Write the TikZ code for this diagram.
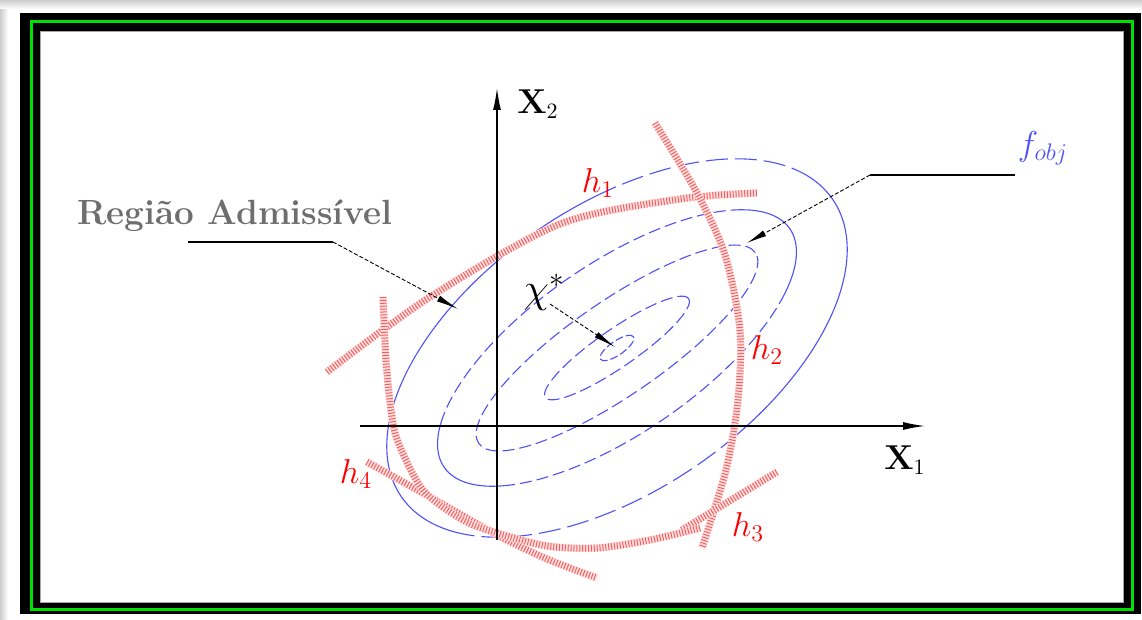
\documentclass[tikz,border=0pt]{standalone}
\usetikzlibrary{arrows.meta}
\definecolor{ctblue}{RGB}{80,80,250}
\definecolor{frgreen}{RGB}{0,225,0}
\definecolor{hred}{RGB}{245,95,95}
\definecolor{lblgray}{RGB}{110,110,110}
\newcommand{\hatchcurve}[1]{\draw[hband] #1; \draw[hticks] #1;}
\begin{document}
\begin{tikzpicture}[x=0.5pt,y=-0.5pt,
  contour/.style={ctblue, line width=0.55pt, dash pattern=on 6pt off 2.5pt},
  contourlong/.style={ctblue, line width=0.55pt, dash pattern=on 11pt off 3.5pt},
  contoursolid/.style={ctblue, line width=0.55pt},
  axisline/.style={line width=0.7pt, -{Latex[length=11pt,width=4pt]}},
  hband/.style={red!12, line width=3.8pt},
  hticks/.style={hred, line width=3.4pt, dash pattern=on 0.5pt off 0.95pt},
  leader/.style={line width=0.45pt, dash pattern=on 2pt off 1pt, -{Latex[length=11pt,width=3.2pt]}},
  leaderflat/.style={line width=0.6pt},
  hlabel/.style={text=red, font=\fontsize{18}{20}\selectfont, inner sep=0pt},
  axlabel/.style={font=\fontsize{16}{18}\selectfont, inner sep=0pt},
]
\useasboundingbox (0,0) rectangle (1142,620);
% shadow and frame
\fill[white] (0,0) rectangle (1142,620);
\shade[left color=gray!40, right color=white] (0,0) rectangle (8,620);
\shade[top color=gray!40, bottom color=white] (0,0) rectangle (1142,9);
\fill[black] (20,13) rectangle (1141,614);
\draw[frgreen, line width=1.5pt] (31,22) rectangle (1132,609);
\fill[white] (40,31) rectangle (1123,602);
\draw[gray!70, line width=0.4pt] (40,31) rectangle (1123,602);

% objective contours
\begin{scope}[shift={(617,348)}, y=0.5pt, rotate=34.6]
  \draw[contoursolid] (-82:262 and 142) arc[start angle=-82, end angle=12, x radius=262, y radius=142];
  \draw[contourlong] (12:262 and 142) arc[start angle=12, end angle=70, x radius=262, y radius=142];
  \draw[contoursolid] (70:262 and 142) arc[start angle=70, end angle=204, x radius=262, y radius=142];
  \draw[contourlong] (204:262 and 142) arc[start angle=204, end angle=278, x radius=262, y radius=142];
  \draw[contoursolid] (-40:210 and 85) arc[start angle=-40, end angle=30, x radius=210, y radius=85];
  \draw[contour] (30:210 and 85) arc[start angle=30, end angle=150, x radius=210, y radius=85];
  \draw[contoursolid] (150:210 and 85) arc[start angle=150, end angle=215, x radius=210, y radius=85];
  \draw[contour] (215:210 and 85) arc[start angle=215, end angle=320, x radius=210, y radius=85];
  \draw[contour] (0,0) ellipse [x radius=168, y radius=47];
  \draw[contour] (0,0) ellipse [x radius=87, y radius=19];
  \draw[contour, dash pattern=on 4pt off 1.5pt] (0,0) ellipse [x radius=20, y radius=7];
\end{scope}

% constraints (hatched)
\hatchcurve{plot[smooth] coordinates {(327,372) (430,297) (560,224) (680,199) (757,193)}}
\hatchcurve{plot[smooth] coordinates {(655,123) (697,193) (725,255) (740,330) (738,400) (726,470) (702,548)}}
\hatchcurve{(682,530) -- (777,472)}
\hatchcurve{plot[smooth] coordinates {(367,462) (430,497) (497,535) (547,559) (597,578)}}
\hatchcurve{plot[smooth] coordinates {(383,297) (386,360) (391,410) (398,442) (423,490) (463,520) (497,533) (547,546) (597,548) (650,540) (700,528)}}

% axes
\coordinate (xone0) at (360,426);
\coordinate (xone1) at (925,426);
\coordinate (xtwo0) at (497,540);
\coordinate (xtwo1) at (497,88);
\draw[axisline] (xone0) -- (xone1);
\draw[axisline] (xtwo0) -- (xtwo1);
\node[axlabel] (lblXtwo) at (538,104) {$\mathbf{X}_{2}$};
\node[axlabel] (lblXone) at (905,460) {$\mathbf{X}_{1}$};

% constraint labels
\node[hlabel] (lblHone) at (598,183) {$h_{1}$};
\node[hlabel] (lblHtwo) at (767,350) {$h_{2}$};
\node[hlabel] (lblHthree) at (748,527) {$h_{3}$};
\node[hlabel] (lblHfour) at (356,474) {$h_{4}$};

% region label and leader
\node[text=lblgray, font=\fontsize{17.5}{20}\selectfont\bfseries, inner sep=0pt] (lblRegion) at (235,216) {Região Admissível};
\coordinate (regA) at (188,242);
\coordinate (regB) at (333,242);
\coordinate (regT) at (458,309);
\draw[leaderflat] (regA) -- (regB);
\draw[leader] (regB) -- (regT);

% objective label and leader
\node[text=ctblue, font=\fontsize{18}{20}\selectfont, inner sep=0pt] (lblF) at (1043,148) {$f_{obj}$};
\coordinate (fA) at (1015,175);
\coordinate (fB) at (870,175);
\coordinate (fT) at (747,243);
\draw[leaderflat] (fA) -- (fB);
\draw[leader, -{Latex[length=10pt,width=3.2pt]}] (fB) -- (fT);

% optimum
\node[font=\fontsize{21}{23}\selectfont, inner sep=0pt] (lblChi) at (544,292) {$\chi^{*}$};
\coordinate (chiS) at (550,304);
\coordinate (xstar) at (615,347);
\draw[leader] (chiS) -- (xstar);
\end{tikzpicture}
\end{document}
